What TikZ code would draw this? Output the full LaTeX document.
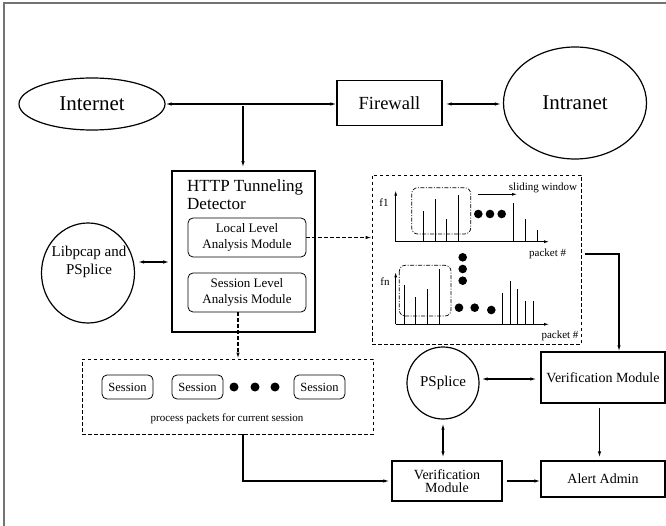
\documentclass[tikz,border=0pt]{standalone}
\usepackage{fontspec}
\setmainfont{Liberation Serif}
\usetikzlibrary{arrows.meta,shapes.geometric,calc}
\tikzset{
  arr/.style={-{Latex[length=6pt,width=3.4pt]}, line width=1.1pt},
  darr/.style={{Latex[length=6pt,width=3.4pt]}-{Latex[length=6pt,width=3.4pt]}, line width=1.1pt},
  thinarr/.style={-{Latex[length=5pt,width=3pt]}, line width=0.8pt},
  box/.style={draw, line width=1.3pt, inner sep=0pt, align=center},
  rbox/.style={draw, line width=0.8pt, rounded corners=5pt, inner sep=0pt, align=center},
  oval/.style={draw, ellipse, line width=1.2pt, inner sep=0pt},
  dbox/.style={draw, dashed, dash pattern=on 3.5pt off 2.5pt, line width=0.9pt, inner sep=0pt},
  ddot/.style={draw, dash pattern=on 4pt off 1.5pt on 1pt off 1.5pt, line width=0.7pt, rounded corners=6pt},
  bar/.style={line width=0.9pt},
  fbig/.style={font=\fontsize{21}{24}\selectfont},
  ffw/.style={font=\fontsize{18.5}{21}\selectfont},
  fmid/.style={font=\fontsize{15}{18}\selectfont},
  fver/.style={font=\fontsize{14}{12.5}\selectfont},
  fmod/.style={font=\fontsize{13}{15.5}\selectfont},
  fses/.style={font=\fontsize{12.5}{14}\selectfont},
  fsm/.style={font=\fontsize{11}{13}\selectfont},
}
\begin{document}
\begin{tikzpicture}[x=1pt,y=-1pt]
\useasboundingbox (0,0) rectangle (666,526);
% frame
\draw[gray!90!black, line width=2pt] (4.3,526) -- (4.3,3) -- (666,3);

% top row
\node[oval, fbig, minimum width=146pt, minimum height=52pt] (inet) at (92,104) {Internet};
\node[box, ffw, minimum width=105pt, minimum height=45pt] (fw) at (389.5,103) {Firewall};
\node[oval, fbig, minimum width=143pt, minimum height=112pt] (intra) at (575,103) {Intranet};
\draw[darr] (inet.east) -- (fw.west |- inet.east);
\draw[darr, shorten >=2pt, shorten <=3pt] (fw.east |- inet.east) -- (intra.west |- inet.east);
\coordinate (j) at (243,106);
% HTTP detector
\node[draw, line width=1.6pt, minimum width=143pt, minimum height=161pt, inner sep=0pt] (http) at (243.5,251.5) {};
\draw[arr, shorten >=3pt] (j) -- (j |- http.north);
\node[anchor=west, align=left, inner sep=0pt, font=\fontsize{17}{18.3}\selectfont] (httpt) at (187,195) {HTTP Tunneling\\Detector};
\node[rbox, fmod, minimum width=118pt, minimum height=39pt] (local) at (247,237.5) {Local Level\\Analysis Module};
\node[rbox, fmod, minimum width=118pt, minimum height=39pt] (sess) at (247,292.5) {Session Level\\Analysis Module};

% Libpcap
\node[oval, minimum width=93pt, minimum height=100pt] (lib) at (88,273) {};
\node[fmid, align=center, inner sep=0pt] (libt) at (89,262) {Libpcap and\\PSplice};
\draw[darr, shorten <=3pt, shorten >=2pt] (lib.east |- libt) -- (http.west |- libt);

% graph box
\node[dbox, minimum width=209pt, minimum height=169pt] (graph) at (476.5,259.5) {};
\draw[arr, dashed, dash pattern=on 3.5pt off 2.5pt] (local.east) -- (graph.west |- local.east);
% top plot
\draw[thinarr] (395.7,241.7) -- (395.7,190.7);
\draw[thinarr] (395.7,241.7) -- (549,241.7);
\foreach \x/\t in {423.3/210.7, 435/199.3, 446.7/218.7, 458.7/195, 513.3/203.3, 525.3/219, 537/230.3}
  \draw[bar] (\x,241.7) -- (\x,\t);
\draw[ddot] (411.7,187.7) rectangle (470.7,234);
\foreach \x in {478.3,490,501.7} \fill (\x,214) circle (4.3pt);
\draw[thinarr] (478,194.3) -- (517,194.3);
\node[fsm, inner sep=0pt] (sw) at (543,187.5) {sliding window};
\node[fsm, inner sep=0pt] (f1) at (384,202.7) {f1};
\node[fsm, inner sep=0pt] (p1) at (547.7,254.3) {packet \#};
\foreach \y in {257.3,269,280.7} \fill (462.7,\y) circle (4.3pt);
% bottom plot
\draw[thinarr] (395.7,324.3) -- (395.7,272.3);
\draw[thinarr] (395.7,324.3) -- (549,324.3);
\foreach \x/\t in {404/285, 415.7/296.7, 427.7/289, 439/269.3, 502.3/292.7, 510/281, 517.7/289, 525.7/301, 533.3/301}
  \draw[bar] (\x,324.3) -- (\x,\t);
\draw[ddot] (399.3,265.3) rectangle (451,316);
\fill (459,307.7) circle (4.3pt);
\fill (474.7,307.7) circle (4.3pt);
\fill (491.3,310) circle (4.3pt);
\node[fsm, inner sep=0pt] (fn) at (385,281.7) {fn};
\node[fsm, inner sep=0pt] (p2) at (560,335.7) {packet \#};

% sessions box
\node[dbox, minimum width=291pt, minimum height=75pt] (sbox) at (227.5,396.5) {};
\draw[arr, dashed, dash pattern=on 3.5pt off 2.5pt] ([xshift=-9pt]sess.south) -- ([xshift=-9pt]sess.south |- sbox.north);
\node[rbox, fses, minimum width=51pt, minimum height=24pt] (s1) at (127.5,387) {Session};
\node[rbox, fses, minimum width=51pt, minimum height=24pt] (s2) at (197.5,387) {Session};
\node[rbox, fses, minimum width=51pt, minimum height=24pt] (s3) at (319.5,387) {Session};
\foreach \x in {234,255,275} \fill (\x,387) circle (4.5pt);
\node[fsm, inner sep=0pt] (proc) at (227,419) {process packets for current session};

% lower right
\node[oval, circle, fmid, minimum size=72pt] (ps) at (443,383) {PSplice};
\node[box, fver, minimum width=124pt, minimum height=51pt] (vup) at (603,377.5) {Verification Module};
\node[box, fver, minimum width=124pt, minimum height=36pt] (alert) at (603,479) {Alert Admin};
\node[box, fver, minimum width=110pt, minimum height=40pt] (vlow) at (447,481) {Verification\\Module};

\coordinate (g1) at (581,254);
\draw[arr, shorten <=4pt] (g1) -| ([xshift=16pt]vup.north);
\draw[arr, shorten <=4pt, shorten >=3pt] ([xshift=-3.5pt]vup.south) -- ([xshift=-3.5pt]vup.south |- alert.north);
\draw[darr, shorten <=2pt, shorten >=4pt] ([yshift=4pt]ps.east) -- ([yshift=4pt]vup.west |- ps.east);
\draw[darr, shorten <=4pt, shorten >=3pt] (ps.south) -- (vlow.north -| ps.south);
\draw[arr, shorten <=4pt] (vlow.east) -- (alert.west |- vlow.east);
\draw[arr, shorten >=2pt] ([xshift=15.5pt]sbox.south) |- (vlow.west);
\end{tikzpicture}
\end{document}
